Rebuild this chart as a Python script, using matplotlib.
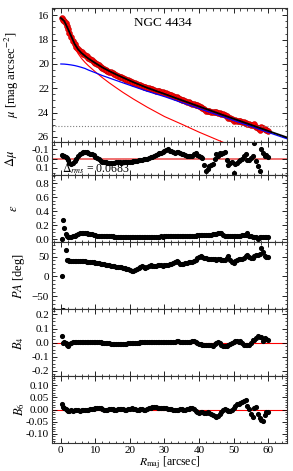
import matplotlib
matplotlib.use('Agg')
import matplotlib.pyplot as plt
from matplotlib.ticker import MultipleLocator, FormatStrFormatter

plt.rcParams['font.family'] = ['Liberation Serif', 'DejaVu Serif']
plt.rcParams['mathtext.fontset'] = 'stix'
plt.rcParams['font.size'] = 9

# isophote radii [arcsec]
r = [0.2, 0.7, 1.0, 1.35, 1.7,
     2.0, 2.5, 3.0, 3.5, 4.0, 4.5, 5.0, 5.5, 6.0, 6.5,
     7.0, 7.5, 8.0, 8.5, 9.0, 9.5, 10.0, 10.5, 11.0, 11.5,
     12.0, 12.5, 13.0, 13.5, 14.0, 14.5, 15.0, 15.5, 16.0, 16.5,
     17.0, 17.5, 18.0, 18.5, 19.0, 19.5, 20.0, 20.5, 21.0, 21.5,
     22.0, 22.5, 23.0, 23.5, 24.0, 24.5, 25.0, 25.5, 26.0, 26.5,
     27.0, 27.5, 28.0, 28.5, 29.0, 29.5, 30.0, 30.5, 31.0, 31.5,
     32.0, 32.5, 33.0, 33.5, 34.0, 34.5, 35.0, 35.5, 36.0, 36.5,
     37.0, 37.5, 38.0, 38.5, 39.0, 39.5, 40.0, 40.5, 41.0, 41.5,
     42.0, 42.5, 43.0, 43.5, 44.0, 44.5, 45.0, 45.5, 46.0, 46.5,
     47.0, 47.5, 48.0, 48.5, 49.0, 49.5, 50.0, 50.5, 51.0, 51.5,
     52.0, 52.5, 53.0, 53.5, 54.0, 54.5, 55.0, 55.5, 56.0, 56.5,
     57.0, 57.5, 58.0, 58.5, 59.0, 59.5, 60.0]

mu = [16.23, 16.37, 16.46, 16.67, 16.89,
      17.10, 17.45, 17.78, 18.09, 18.39, 18.59, 18.78, 18.90, 19.04, 19.15,
      19.27, 19.38, 19.50, 19.60, 19.71, 19.81, 19.91, 20.01, 20.12, 20.21,
      20.31, 20.40, 20.47, 20.55, 20.63, 20.69, 20.77, 20.83, 20.90, 20.97,
      21.03, 21.11, 21.16, 21.22, 21.29, 21.35, 21.40, 21.48, 21.53, 21.59,
      21.65, 21.69, 21.75, 21.80, 21.86, 21.91, 21.96, 22.01, 22.05, 22.09,
      22.14, 22.18, 22.22, 22.26, 22.30, 22.34, 22.38, 22.42, 22.46, 22.54,
      22.59, 22.65, 22.71, 22.75, 22.81, 22.87, 22.93, 22.99, 23.05, 23.10,
      23.16, 23.20, 23.26, 23.30, 23.34, 23.40, 23.46, 23.53, 23.58, 23.71,
      23.83, 23.85, 23.88, 23.92, 23.96, 23.95, 23.96, 24.02, 24.04, 24.10,
      24.14, 24.18, 24.31, 24.42, 24.45, 24.49, 24.66, 24.61, 24.65, 24.68,
      24.71, 24.75, 24.78, 24.81, 24.92, 24.96, 24.99, 25.02, 24.93, 25.18,
      25.28, 25.39, 25.20, 25.29, 25.38, 25.41, 25.48]

dmu = [-0.038, -0.03, -0.025, -0.02, -0.01,
       0.02, 0.045, 0.055, 0.05, 0.03, 0.005, -0.025, -0.05, -0.062, -0.068,
       -0.069, -0.066, -0.06, -0.052, -0.045, -0.035, -0.022, -0.008, 0.008, 0.022,
       0.032, 0.038, 0.042, 0.044, 0.045, 0.043, 0.045, 0.044, 0.042, 0.04,
       0.042, 0.045, 0.04, 0.038, 0.041, 0.036, 0.034, 0.036, 0.03, 0.028,
       0.025, 0.02, 0.015, 0.012, 0.008, 0.005, 0.0, -0.005, -0.012, -0.018,
       -0.025, -0.035, -0.045, -0.055, -0.065, -0.075, -0.085, -0.095, -0.098, -0.085,
       -0.08, -0.07, -0.062, -0.066, -0.069, -0.06, -0.05, -0.044, -0.035, -0.028,
       -0.025, -0.03, -0.033, -0.045, -0.055, -0.04, -0.033, -0.015, -0.007, 0.065,
       0.138, 0.11, 0.084, 0.07, 0.055, 0.004, -0.044, -0.03, -0.062, -0.05,
       -0.062, -0.075, 0.01, 0.065, 0.05, 0.04, 0.156, 0.06, 0.047, 0.03,
       0.011, 0.0, -0.025, -0.044, 0.02, 0.011, -0.01, -0.033, -0.17, 0.03,
       0.08, 0.138, -0.098, -0.062, -0.025, -0.04, -0.02]

eps = [0.0, 0.28, 0.16, 0.07, 0.05,
       0.04, 0.033, 0.035, 0.045, 0.055, 0.065, 0.075, 0.085, 0.092, 0.095,
       0.093, 0.088, 0.082, 0.077, 0.072, 0.066, 0.06, 0.055, 0.05, 0.047,
       0.046, 0.045, 0.046, 0.044, 0.043, 0.042, 0.043, 0.041, 0.04, 0.04,
       0.038, 0.036, 0.035, 0.036, 0.034, 0.033, 0.032, 0.033, 0.031, 0.030,
       0.03, 0.031, 0.03, 0.029, 0.03, 0.031, 0.03, 0.03, 0.032, 0.031,
       0.034, 0.036, 0.038, 0.04, 0.042, 0.041, 0.043, 0.044, 0.042, 0.043,
       0.044, 0.046, 0.043, 0.045, 0.047, 0.046, 0.048, 0.045, 0.047, 0.049,
       0.05, 0.052, 0.051, 0.054, 0.055, 0.057, 0.056, 0.058, 0.06, 0.059,
       0.062, 0.061, 0.064, 0.066, 0.07, 0.074, 0.08, 0.086, 0.092, 0.09,
       0.06, 0.048, 0.046, 0.045, 0.047, 0.044, 0.046, 0.048, 0.05, 0.053,
       0.055, 0.058, 0.06, 0.065, 0.088, 0.05, 0.042, 0.035, 0.03, 0.032,
       0.012, 0.03, 0.028, 0.035, 0.032, 0.03, 0.033]

pa = [0.0, -86.0, -87.0, 67.0, 40.0,
      40, 39, 38, 38, 38.5, 38, 38, 38.5, 38, 38,
      37.5, 37, 37, 36.5, 36, 35, 34.5, 34, 33, 32,
      31, 30, 29.5, 28.5, 28, 27, 26, 25, 24.5, 23.5,
      23, 22.5, 21.5, 21, 19, 17.5, 16, 14.5, 13, 15,
      19, 21, 23, 25, 24, 22, 24, 26, 27.5, 27,
      26.5, 27, 28.5, 29.5, 28, 27, 27.5, 28, 29, 30,
      31, 33, 35, 38, 36, 32, 30, 31, 33, 34,
      35, 37, 36, 39, 42, 45, 49, 51, 48, 46,
      45, 44, 44, 43.5, 43, 43, 42, 42.5, 43, 41,
      40, 42, 47, 52.5, 41, 35, 34, 38, 41, 44,
      43, 44, 45, 52, 55, 50, 46.7, 47, 52, 55,
      55, 57, 71.7, 62, 52, 50, 49]

b4 = [0.048, 0.0, 0.005, -0.005, -0.015,
      -0.025, -0.01, 0.0, 0.003, 0.005, 0.006, 0.006, 0.007, 0.008, 0.008,
      0.008, 0.007, 0.006, 0.005, 0.004, 0.004, 0.003, 0.002, 0.002, 0.001,
      0.0, 0.0, -0.002, -0.004, -0.006, -0.007, -0.008, -0.009, -0.01, -0.009,
      -0.008, -0.01, -0.009, -0.007, -0.008, -0.006, -0.005, -0.004, -0.005, -0.003,
      -0.002, 0.0, 0.001, 0.003, 0.002, 0.003, 0.004, 0.002, 0.003, 0.005,
      0.006, 0.008, 0.005, 0.004, 0.002, 0.003, 0.005, 0.006, 0.004, 0.003,
      0.004, 0.006, 0.008, 0.01, 0.009, 0.007, 0.006, 0.004, 0.003, 0.002,
      0.004, 0.008, 0.012, 0.01, 0.005, -0.002, -0.008, -0.012, -0.016, -0.019,
      -0.02, -0.02, -0.018, -0.02, -0.021, -0.012, -0.002, 0.003, -0.005, -0.015,
      -0.024, -0.026, -0.022, -0.018, -0.01, -0.002, 0.006, 0.012, 0.014, 0.008,
      0.01, -0.005, -0.015, -0.017, -0.015, -0.014, 0.0, 0.021, 0.02, 0.035,
      0.049, 0.04, 0.037, 0.01, 0.03, 0.025, 0.02]

b6 = [0.024, 0.01, 0.007, 0.002, -0.003,
      -0.005, -0.004, -0.003, -0.004, -0.003, -0.002, -0.003, -0.004, -0.002, 0.0,
      -0.002, -0.003, 0.0, 0.002, 0.003, 0.004, 0.005, 0.006, 0.007, 0.005,
      0.003, 0.0, -0.002, 0.0, 0.002, 0.003, 0.001, -0.001, 0.0, 0.002,
      0.004, 0.003, 0.001, -0.001, 0.0, 0.002, 0.004, 0.005, 0.003, 0.001,
      -0.001, 0.0, 0.002, 0.001, -0.001, 0.0, 0.002, 0.005, 0.008, 0.01,
      0.011, 0.01, 0.008, 0.007, 0.005, 0.006, 0.007, 0.005, 0.003, 0.002,
      0.001, 0.0, -0.002, -0.001, 0.0, 0.002, 0.001, 0.0, -0.001, 0.001,
      0.003, 0.005, 0.007, 0.004, -0.004, -0.01, -0.014, -0.012, -0.01, -0.013,
      -0.014, -0.012, -0.014, -0.018, -0.022, -0.028, -0.032, -0.026, -0.018, -0.008,
      0.0, 0.003, -0.002, -0.006, -0.007, 0.0, 0.005, 0.014, 0.022, 0.024,
      0.026, 0.03, 0.036, 0.04, 0.014, 0.004, -0.02, -0.03, 0.007, 0.012,
      -0.02, -0.035, -0.044, -0.046, -0.024, -0.012, -0.008]

# model components
r_mod = [0, 1, 2, 3, 4, 5, 6, 7, 8, 10, 12, 14, 16, 18, 21, 25, 30, 35, 40, 45, 50, 55, 60, 65.5]
mu_bulge = [16.25, 16.52, 17.15, 17.85, 18.6, 19.15, 19.55, 19.87, 20.15, 20.65, 21.12, 21.55,
            21.95, 22.34, 22.88, 23.55, 24.32, 24.95, 25.6, 26.2, 26.8, 27.4, 28.0, 28.6]
mu_disk = [20.0, 20.01, 20.04, 20.08, 20.13, 20.2, 20.28, 20.37, 20.5, 20.72, 20.95, 21.15,
           21.35, 21.55, 21.85, 22.24, 22.68, 23.17, 23.66, 24.15, 24.64, 25.13, 25.62, 26.15]
mu_total = [16.22, 16.48, 17.08, 17.72, 18.36, 18.8, 19.1, 19.34, 19.56, 19.93, 20.28, 20.58,
            20.86, 21.12, 21.5, 21.96, 22.46, 22.98, 23.49, 24.0, 24.5, 25.0, 25.5, 26.04]

fig = plt.figure(figsize=(2.93, 4.71), dpi=100)
gs = fig.add_gridspec(6, 1, height_ratios=[4, 1, 2, 2, 2, 2], hspace=0,
                      left=0.177, right=0.98, top=0.983, bottom=0.0594)
ax0 = fig.add_subplot(gs[0])
axs = [ax0] + [fig.add_subplot(gs[i], sharex=ax0) for i in range(1, 6)]

ms = 2.7
# surface brightness profile
ax = axs[0]
ax.plot(r, mu, 'o', ms=4.2, color='red', mec='#c00000', mew=0.4, zorder=2)
ax.plot(r_mod, mu_bulge, '-', color='red', lw=0.8, zorder=3)
ax.plot(r_mod, mu_disk, '-', color='blue', lw=0.9, zorder=3)
ax.plot(r_mod, mu_total, '-', color='black', lw=1.3, zorder=4)
ax.axhline(25.1, color='gray', ls=':', lw=0.8)
ax.set_ylim(26.4, 15.4)
ax.yaxis.set_major_locator(MultipleLocator(2))
ax.yaxis.set_minor_locator(MultipleLocator(0.5))
ax.set_ylabel(r'$\mu$ [mag arcsec$^{-2}$]')
ax.text(0.47, 0.89, 'NGC 4434', transform=ax.transAxes, ha='center', va='center', fontsize=9.5)

# residuals
ax = axs[1]
ax.axhline(0, color='#f07070', lw=1.4, zorder=1)
ax.plot(r, dmu, 'o', ms=ms, color='black', zorder=2)
ax.set_ylim(0.18, -0.18)
ax.yaxis.set_major_locator(MultipleLocator(0.1))
ax.yaxis.set_minor_locator(MultipleLocator(0.05))
ax.yaxis.set_major_formatter(FormatStrFormatter('%.1f'))
ax.set_ylabel(r'$\Delta\mu$')
ax.text(0.045, 0.2, r'$\Delta_{rms}$ = 0.0683', transform=ax.transAxes, ha='left', va='center', fontsize=8.5)

# ellipticity
ax = axs[2]
ax.plot(r, eps, 'o', ms=ms, color='black')
ax.set_ylim(-0.04, 0.91)
ax.yaxis.set_major_locator(MultipleLocator(0.2))
ax.yaxis.set_minor_locator(MultipleLocator(0.05))
ax.yaxis.set_major_formatter(FormatStrFormatter('%.1f'))
ax.set_ylabel(r'$\varepsilon$')

# position angle
ax = axs[3]
ax.plot(r, pa, 'o', ms=ms, color='black')
ax.set_ylim(-83, 86)
ax.yaxis.set_major_locator(MultipleLocator(50))
ax.yaxis.set_minor_locator(MultipleLocator(10))
ax.set_ylabel(r'$PA$ [deg]')

# B4
ax = axs[4]
ax.axhline(0, color='red', lw=0.8, zorder=1)
ax.plot(r, b4, 'o', ms=ms, color='black', zorder=2)
ax.set_ylim(-0.237, 0.237)
ax.yaxis.set_major_locator(MultipleLocator(0.1))
ax.yaxis.set_minor_locator(MultipleLocator(0.025))
ax.yaxis.set_major_formatter(FormatStrFormatter('%.1f'))
ax.set_ylabel(r'$B_4$')

# B6
ax = axs[5]
ax.axhline(0, color='red', lw=0.8, zorder=1)
ax.plot(r, b6, 'o', ms=ms, color='black', zorder=2)
ax.set_ylim(-0.1375, 0.1375)
ax.yaxis.set_major_locator(MultipleLocator(0.05))
ax.yaxis.set_minor_locator(MultipleLocator(0.01))
ax.yaxis.set_major_formatter(FormatStrFormatter('%.2f'))
ax.set_ylabel(r'$B_6$')
ax.set_xlabel(r'$R_{\rm maj}$ [arcsec]', labelpad=0, fontsize=8.5)

ax0.set_xlim(-2.6, 65.5)
ax0.xaxis.set_major_locator(MultipleLocator(10))
ax0.xaxis.set_minor_locator(MultipleLocator(2))

label_x = [-0.13, -0.14, -0.135, -0.106, -0.11, -0.106]
for a, lx in zip(axs, label_x):
    a.tick_params(which='both', direction='in', top=True, right=True, labelsize=8, pad=2)
    a.tick_params(which='major', length=3.5, width=0.6)
    a.tick_params(which='minor', length=1.8, width=0.5)
    for s in a.spines.values():
        s.set_color('#333333')
        s.set_linewidth(0.8)
    a.yaxis.set_label_coords(lx, 0.5)
    if a is not axs[-1]:
        a.tick_params(labelbottom=False)

fig.savefig('out.png', dpi=100)
